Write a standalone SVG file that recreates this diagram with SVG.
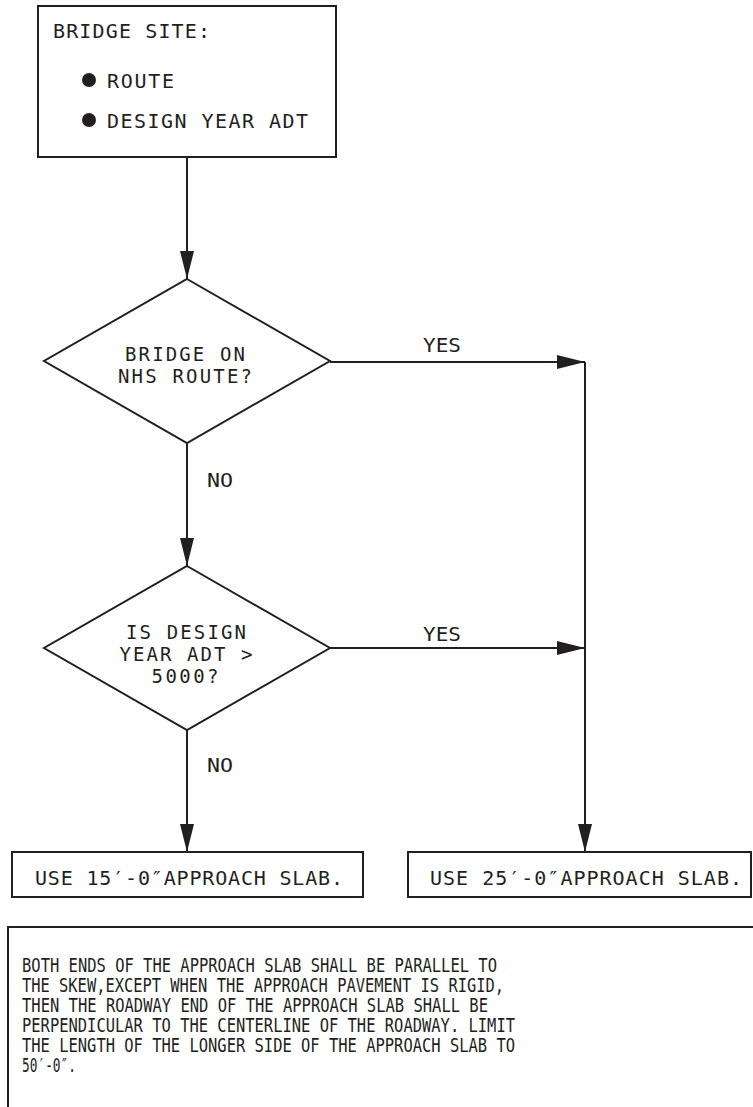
<svg xmlns="http://www.w3.org/2000/svg" width="753" height="1107" viewBox="0 0 753 1107">
  <style>
    .box { fill: #ffffff; stroke: #231f20; stroke-width: 2; }
    .edge { fill: none; stroke: #231f20; stroke-width: 2; }
    .t { font-family: "DejaVu Sans Mono", "Liberation Mono", monospace; font-size: 20px; fill: #231f20; }
    .tc { font-family: "DejaVu Sans Mono", "Liberation Mono", monospace; font-size: 19px; fill: #231f20; text-anchor: middle; }
    .note { font-family: "DejaVu Sans Mono", "Liberation Mono", monospace; font-size: 19px; fill: #231f20; }
  </style>
  <defs>
    <marker id="arrow" viewBox="0 0 28 14" refX="28" refY="7" markerWidth="28" markerHeight="14" markerUnits="userSpaceOnUse" orient="auto">
      <path d="M0,0 L28,7 L0,14 Z" fill="#231f20"/>
    </marker>
  </defs>
  <rect width="753" height="1107" fill="#ffffff"/>

  <!-- flow connectors -->
  <g id="connectors">
    <line class="edge" x1="187" y1="157" x2="187" y2="279" marker-end="url(#arrow)"/>
    <line class="edge" x1="187" y1="443" x2="187" y2="566" marker-end="url(#arrow)"/>
    <line class="edge" x1="187" y1="730" x2="187" y2="852" marker-end="url(#arrow)"/>
    <line class="edge" x1="330" y1="362" x2="585" y2="362" marker-end="url(#arrow)"/>
    <line class="edge" x1="330" y1="648" x2="585" y2="648" marker-end="url(#arrow)"/>
    <line class="edge" x1="585" y1="362" x2="585" y2="852" marker-end="url(#arrow)"/>
    <text class="t" x="207" y="487" textLength="26" lengthAdjust="spacingAndGlyphs">NO</text>
    <text class="t" x="207" y="772" textLength="26" lengthAdjust="spacingAndGlyphs">NO</text>
    <text class="t" x="423" y="352" textLength="38" lengthAdjust="spacingAndGlyphs">YES</text>
    <text class="t" x="423" y="641" textLength="38" lengthAdjust="spacingAndGlyphs">YES</text>
  </g>

  <!-- site input box -->
  <g id="site">
    <rect class="box" x="38" y="6" width="298" height="151"/>
    <text class="t" x="53" y="38" textLength="157">BRIDGE SITE:</text>
    <circle cx="89" cy="80" r="7" fill="#231f20"/>
    <text class="t" x="107" y="88" textLength="67">ROUTE</text>
    <circle cx="89" cy="120" r="7" fill="#231f20"/>
    <text class="t" x="107" y="128" textLength="201">DESIGN YEAR ADT</text>
  </g>

  <!-- decision: NHS route -->
  <g id="nhs">
    <polygon class="box" points="187,279 330,361 187,443 44,361"/>
    <text class="tc" x="185" y="361" textLength="120">BRIDGE ON</text>
    <text class="tc" x="185" y="383" textLength="134">NHS ROUTE?</text>
  </g>

  <!-- decision: design year ADT -->
  <g id="adt">
    <polygon class="box" points="187,566 330,648 187,730 44,648"/>
    <text class="tc" x="186" y="639" textLength="120">IS DESIGN</text>
    <text class="tc" x="186" y="661" textLength="133">YEAR ADT &gt;</text>
    <text class="tc" x="185" y="683" textLength="67">5000?</text>
  </g>

  <!-- outcome: 15 ft slab -->
  <g id="slab15">
    <rect class="box" x="12" y="852" width="351" height="45"/>
    <text class="t" x="35" y="885" textLength="308">USE 15′-0″APPROACH SLAB.</text>
  </g>

  <!-- outcome: 25 ft slab -->
  <g id="slab25">
    <rect class="box" x="408" y="852" width="343" height="45"/>
    <text class="t" x="430" y="885" textLength="312">USE 25′-0″APPROACH SLAB.</text>
  </g>

  <!-- general note -->
  <g id="note">
    <rect class="box" x="8" y="927" width="800" height="300"/>
    <text class="note" x="22" y="972" textLength="475" lengthAdjust="spacingAndGlyphs">BOTH ENDS OF THE APPROACH SLAB SHALL BE PARALLEL TO</text>
    <text class="note" x="22" y="992" textLength="482" lengthAdjust="spacingAndGlyphs">THE SKEW,EXCEPT WHEN THE APPROACH PAVEMENT IS RIGID,</text>
    <text class="note" x="22" y="1012" textLength="466" lengthAdjust="spacingAndGlyphs">THEN THE ROADWAY END OF THE APPROACH SLAB SHALL BE</text>
    <text class="note" x="22" y="1032" textLength="493" lengthAdjust="spacingAndGlyphs">PERPENDICULAR TO THE CENTERLINE OF THE ROADWAY. LIMIT</text>
    <text class="note" x="22" y="1052" textLength="493" lengthAdjust="spacingAndGlyphs">THE LENGTH OF THE LONGER SIDE OF THE APPROACH SLAB TO</text>
    <text class="note" x="22" y="1072" textLength="54" lengthAdjust="spacingAndGlyphs">50′-0″.</text>
  </g>
</svg>
